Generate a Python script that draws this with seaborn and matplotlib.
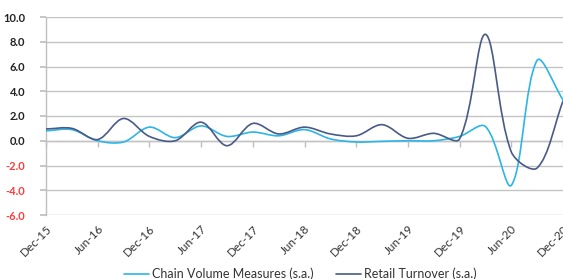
import numpy as np
import pandas as pd
import matplotlib
matplotlib.use("Agg")
import matplotlib.pyplot as plt
import seaborn as sns
from matplotlib.path import Path
from matplotlib.patches import PathPatch
from matplotlib.lines import Line2D

# ── data (quarterly % change) ──
quarters = ["Dec-15", "Mar-16", "Jun-16", "Sep-16", "Dec-16", "Mar-17", "Jun-17",
            "Sep-17", "Dec-17", "Mar-18", "Jun-18", "Sep-18", "Dec-18", "Mar-19",
            "Jun-19", "Sep-19", "Dec-19", "Mar-20", "Jun-20", "Sep-20", "Dec-20"]
chain_volume = [0.8, 0.9, 0.0, -0.1, 1.1, 0.25, 1.2, 0.35, 0.7, 0.4, 0.9,
                0.15, -0.1, -0.05, 0.0, 0.0, 0.35, 1.15, -3.6, 6.5, 3.3]
retail_turnover = [0.95, 1.0, 0.1, 1.8, 0.35, 0.0, 1.5, -0.4, 1.4, 0.55, 1.1,
                   0.55, 0.4, 1.3, 0.2, 0.6, 0.15, 8.6, -0.9, -2.2, 3.2]
series_names = ["Chain Volume Measures (s.a.)", "Retail Turnover (s.a.)"]
colors = ["#2CB5E6", "#485A86"]
y_ticks = [-6, -4, -2, 0, 2, 4, 6, 8, 10]


def smooth_path(xy, y_aspect=0.478):
    """Excel-style smoothed line: cubic Bezier through every point,
    handles scaled by the neighbouring chord lengths (on screen)."""
    n = len(xy)
    scale = np.array([1.0, y_aspect])

    def chord(a, b):
        return np.hypot(*((b - a) * scale))

    out_cp, in_cp = [], []
    for i in range(n):
        prev_p = xy[i - 1] if i > 0 else xy[i]
        next_p = xy[i + 1] if i < n - 1 else xy[i]
        tangent = next_p - prev_p
        d_in, d_out = chord(prev_p, xy[i]), chord(xy[i], next_p)
        total = d_in + d_out if d_in + d_out > 0 else 1.0
        in_cp.append(xy[i] - tangent * d_in / total / 3)
        out_cp.append(xy[i] + tangent * d_out / total / 3)

    verts, codes = [xy[0]], [Path.MOVETO]
    for i in range(n - 1):
        verts += [out_cp[i], in_cp[i + 1], xy[i + 1]]
        codes += [Path.CURVE4] * 3
    return Path(verts, codes)


df = pd.DataFrame({"pos": np.arange(len(quarters)),
                   series_names[0]: chain_volume,
                   series_names[1]: retail_turnover})
long = df.melt(id_vars="pos", var_name="series", value_name="value")

sns.set_theme(style="white")
plt.rcParams["font.family"] = ["Lato", "DejaVu Sans"]

fig = plt.figure(figsize=(5.63, 2.79), dpi=100)
ax = fig.add_axes([46 / 563, 1 - 215 / 279, 1 - 46 / 563, 198 / 279])

sns.lineplot(data=long, x="pos", y="value", hue="series", hue_order=series_names,
             palette=colors, ax=ax, legend=False)

# swap the straight segments for smoothed curves
for line in ax.get_lines():
    patch = PathPatch(smooth_path(line.get_xydata()), fill=False,
                      edgecolor=line.get_color(), lw=1.2,
                      capstyle="round", joinstyle="round", zorder=3)
    ax.add_patch(patch)
    line.set_visible(False)

ax.set_xlim(0, len(quarters) - 1)
ax.set_ylim(-6, 10)
ax.set_xlabel("")
ax.set_ylabel("")

# y axis
ax.set_yticks(y_ticks)
ax.set_yticklabels([f"{v:.1f}" for v in y_ticks], fontsize=8, fontweight="bold")
for lab, v in zip(ax.get_yticklabels(), y_ticks):
    lab.set_color("#FF3B3B" if v < 0 else "#222222")
ax.tick_params(axis="y", length=4, color="#BFBFBF", direction="out", pad=11, left=True)
ax.yaxis.grid(True, color="#C4C4C4", lw=1.0)
ax.set_axisbelow(True)

for side in ["top", "right", "bottom"]:
    ax.spines[side].set_visible(False)
ax.spines["left"].set_color("#BFBFBF")
ax.spines["left"].set_linewidth(1.0)

# x labels at the bottom of the plot area
ax.set_xticks(range(0, len(quarters), 2))
ax.set_xticklabels(quarters[::2], rotation=45, ha="right", va="top",
                   rotation_mode="anchor", fontsize=8.5, color="#333333")
ax.tick_params(axis="x", length=0, pad=6)

# category axis crossing at zero
zero_axis = ax.secondary_xaxis(6 / 16)
zero_axis.set_xticks(range(0, len(quarters), 2))
zero_axis.tick_params(direction="out", length=4, color="#BFBFBF", labelbottom=False,
                      labeltop=False, width=1.0)
zero_axis.spines["bottom"].set_color("#BFBFBF")
zero_axis.spines["bottom"].set_linewidth(1.0)

handles = [Line2D([], [], color=c, lw=1.2) for c in colors]
fig.legend(handles, series_names, loc="center", bbox_to_anchor=(300 / 563, 0.018),
           ncol=2, frameon=False, fontsize=9, handlelength=2.0, handletextpad=0.25,
           columnspacing=1.8, labelcolor="#333333")

fig.savefig("out.png", dpi=100)
